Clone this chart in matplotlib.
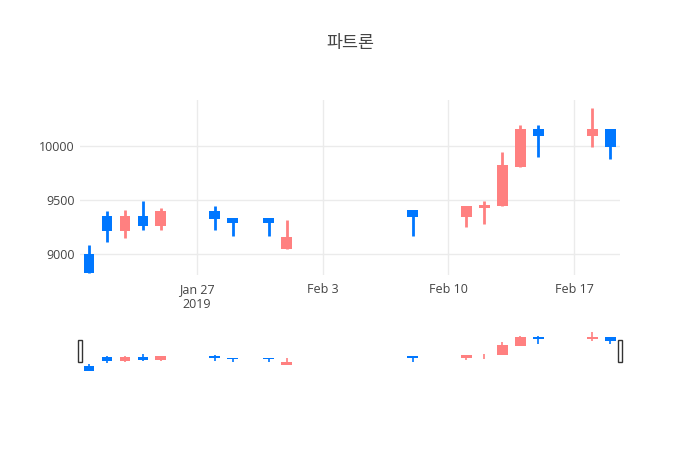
import matplotlib
matplotlib.use("Agg")
import matplotlib.pyplot as plt
import matplotlib.dates as mdates
from matplotlib.patches import Rectangle
import numpy as np
import datetime as dt

dates = ["2019-01-21","2019-01-22","2019-01-23","2019-01-24","2019-01-25","2019-01-28","2019-01-29",
         "2019-01-31","2019-02-01","2019-02-08","2019-02-11","2019-02-12","2019-02-13","2019-02-14",
         "2019-02-15","2019-02-18","2019-02-19"]
opens  = [9000, 9355, 9210, 9355, 9260, 9395, 9335, 9335, 9050, 9405, 9340, 9430, 9440, 9810, 10155, 10090, 10155]
highs  = [9080, 9400, 9410, 9490, 9425, 9445, 9335, 9335, 9310, 9405, 9445, 9490, 9945, 10195, 10195, 10350, 10155]
lows   = [8820, 9110, 9150, 9220, 9220, 9220, 9170, 9170, 9050, 9170, 9245, 9280, 9440, 9810, 9895, 9995, 9875]
closes = [8820, 9210, 9355, 9260, 9395, 9320, 9290, 9290, 9160, 9340, 9445, 9455, 9825, 10155, 10090, 10155, 9990]

UP = "#FF8080"
DOWN = "#0077FF"
TXT = "#444444"

plt.rcParams['font.family'] = ['Open Sans', 'Noto Sans CJK KR', 'DejaVu Sans']

fig = plt.figure(figsize=(7, 4.5), dpi=100)
W, H = 700, 450
ax = fig.add_axes([80/W, (H-275)/H, 540/W, 175/H])
sl = fig.add_axes([80/W, (H-371)/H, 540/W, 39/H])

x = [mdates.date2num(dt.datetime.strptime(d, "%Y-%m-%d")) for d in dates]
xmin = mdates.date2num(dt.datetime(2019, 1, 20, 12))
xmax = mdates.date2num(dt.datetime(2019, 2, 19, 13))

def draw(a, lw, bw):
    for xi, o, h, l, c in zip(x, opens, highs, lows, closes):
        col = UP if c >= o else DOWN
        a.plot([xi, xi], [l, h], color=col, lw=lw, solid_capstyle='butt', zorder=2)
        a.add_patch(Rectangle((xi - bw/2, min(o, c)), bw, max(abs(c - o), 1), facecolor=col, edgecolor=col, lw=0, zorder=3))

draw(ax, 2, 0.6)
draw(sl, 1.2, 0.6)

ax.set_xlim(xmin, xmax)
ax.set_ylim(8805, 10426)
ax.set_yticks([9000, 9500, 10000])
ax.set_yticklabels(["9000", "9500", "10000"])
ticks = [dt.datetime(2019, 1, 27), dt.datetime(2019, 2, 3), dt.datetime(2019, 2, 10), dt.datetime(2019, 2, 17)]
ax.set_xticks([mdates.date2num(t) for t in ticks])
ax.set_xticklabels(["Jan 27\n2019", "Feb 3", "Feb 10", "Feb 17"])
ax.grid(True, color="#ebebeb", lw=1)
ax.set_axisbelow(True)
for s in ax.spines.values():
    s.set_visible(False)
ax.tick_params(length=0, colors=TXT, labelsize=9, pad=6)
ax.tick_params(axis='y', pad=4)

sl.set_xlim(xmin, xmax)
sl.set_ylim(8810, 10360)
sl.set_xticks([]); sl.set_yticks([])
for s in sl.spines.values():
    s.set_visible(False)
for hx in (xmin, xmax):
    sl.add_patch(Rectangle((hx - 0.12, 9167), 0.24, 876, facecolor="white", edgecolor="#333333", lw=1, zorder=5, clip_on=False))

fig.text(350/W, 1 - 43/H, "파트론", ha="center", va="center", fontsize=12.5, color=TXT,
         family=['Noto Sans CJK KR', 'DejaVu Sans'])

fig.savefig("out.png", dpi=100, facecolor="white")
